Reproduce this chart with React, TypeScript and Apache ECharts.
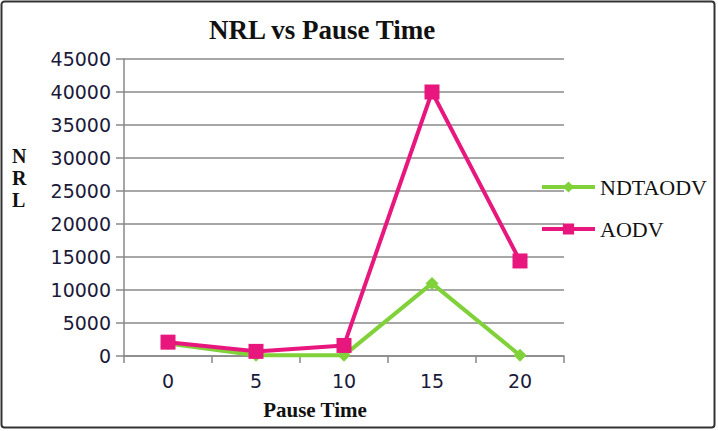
import React, { useEffect, useRef } from "react";
import * as echarts from "echarts";

const categories = ["0", "5", "10", "15", "20"];
const ndtaodv = [1900, 100, 100, 11000, 100];
const aodv = [2100, 700, 1600, 40000, 14400];

export default function App() {
  const ref = useRef<HTMLDivElement>(null);
  useEffect(() => {
    document.body.style.margin = "0";
    const chart = echarts.init(ref.current!, null, { renderer: "svg" });
    chart.setOption({
      animation: false,
      backgroundColor: "#ffffff",
      title: {
        text: "NRL vs Pause Time",
        left: 204,
        top: 11,
        textStyle: { fontFamily: "Liberation Serif", fontWeight: "bold", fontSize: 27, color: "#111" },
      },
      legend: {
        orient: "vertical",
        left: 535,
        top: 171,
        itemWidth: 53,
        itemHeight: 14,
        itemGap: 20,
        lineStyle: { width: 4 },
        textStyle: { fontFamily: "Liberation Serif", fontSize: 22, color: "#111" },
        data: ["NDTAODV", "AODV"],
      },
      grid: { left: 124, right: 154, top: 59, bottom: 75 },
      xAxis: {
        type: "category",
        data: categories,
        boundaryGap: true,
        name: "Pause Time",
        nameLocation: "middle",
        nameGap: 43,
        nameTextStyle: {
          fontFamily: "Liberation Serif",
          fontWeight: "bold",
          fontSize: 21,
          color: "#111",
          padding: [0, 58, 0, 0],
        },
        axisLine: { show: true, lineStyle: { color: "#888", width: 1.5 } },
        axisTick: { show: true, alignWithLabel: false, length: 7, lineStyle: { color: "#888", width: 1.5 } },
        axisLabel: { margin: 15, fontFamily: "DejaVu Sans", fontSize: 19, color: "#1a1a3a" },
      },
      yAxis: {
        type: "value",
        min: 0,
        max: 45000,
        interval: 5000,
        axisLine: { show: true, lineStyle: { color: "#888", width: 1.5 } },
        axisTick: { show: true, length: 8, lineStyle: { color: "#888", width: 1.5 } },
        splitLine: { show: true, lineStyle: { color: "#8a8a8a", width: 1.5 } },
        axisLabel: {
          margin: 13,
          fontFamily: "DejaVu Sans",
          fontSize: 19,
          color: "#1a1a3a",
          formatter: (v: number) => String(v),
        },
      },
      graphic: [
        {
          type: "rect",
          shape: { x: 1.5, y: 1.5, width: 713, height: 426, r: 3 },
          style: { fill: "none", stroke: "#333", lineWidth: 2 },
        },
        {
          type: "text",
          left: 12,
          top: 145,
          style: {
            text: "N\nR\nL",
            fontFamily: "Liberation Serif",
            fontWeight: "bold",
            fontSize: 20,
            lineHeight: 22,
            fill: "#111",
          },
        },
      ],
      series: [
        {
          name: "NDTAODV",
          type: "line",
          data: ndtaodv,
          symbol: "diamond",
          symbolSize: 13,
          itemStyle: { color: "#80d13a" },
          lineStyle: { color: "#80d13a", width: 4 },
          z: 2,
        },
        {
          name: "AODV",
          type: "line",
          data: aodv,
          symbol: "rect",
          symbolSize: 15,
          itemStyle: { color: "#e8177e" },
          lineStyle: { color: "#e8177e", width: 4 },
          z: 3,
        },
      ],
    });
    return () => chart.dispose();
  }, []);
  return <div ref={ref} style={{ width: 718, height: 431 }} />;
}
